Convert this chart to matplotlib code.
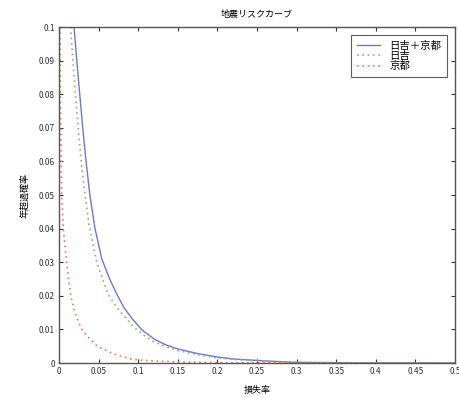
import matplotlib
matplotlib.use("Agg")
import matplotlib.pyplot as plt

plt.rcParams['font.family'] = ['Noto Sans CJK JP', 'DejaVu Sans']

title = "地震リスクカーブ"
xlabel = "損失率"
ylabel = "年超過確率"
series_labels = ["日吉＋京都", "日吉", "京都"]

# loss ratio / annual exceedance probability, combined portfolio
combined_x = [0.019, 0.0225, 0.0262, 0.030, 0.0342, 0.039, 0.0455, 0.054,
              0.064, 0.073, 0.082, 0.093, 0.105, 0.121, 0.135, 0.15, 0.175,
              0.2, 0.22, 0.24, 0.27, 0.3, 0.35, 0.4, 0.5]
combined_y = [0.100, 0.090, 0.080, 0.070, 0.060, 0.050, 0.040, 0.031,
              0.025, 0.0205, 0.0165, 0.0130, 0.0098, 0.0070, 0.0054, 0.0042,
              0.0028, 0.0018, 0.0012, 0.0009, 0.0005, 0.0002, 0.0001,
              0.00005, 0.0]

# Hiyoshi site
hiyoshi_x = [0.0145, 0.018, 0.0215, 0.025, 0.0286, 0.033, 0.038, 0.0476,
             0.055, 0.062, 0.073, 0.081, 0.094, 0.107, 0.12, 0.135, 0.15,
             0.175, 0.2, 0.225, 0.25, 0.3, 0.35, 0.4, 0.5]
hiyoshi_y = [0.100, 0.089, 0.078, 0.068, 0.0584, 0.050, 0.041, 0.030,
             0.025, 0.0205, 0.0165, 0.0143, 0.0108, 0.0083, 0.0063, 0.0049,
             0.0037, 0.0025, 0.0015, 0.0010, 0.0006, 0.0002, 0.0001,
             0.00005, 0.0]

# Kyoto site
kyoto_x = [0.0012, 0.002, 0.0034, 0.0055, 0.0097, 0.0125, 0.015, 0.019, 0.024,
           0.029, 0.037, 0.048, 0.058, 0.068, 0.079, 0.09, 0.1, 0.121, 0.15,
           0.2, 0.25, 0.3, 0.4, 0.5]
kyoto_y = [0.100, 0.075, 0.050, 0.040, 0.030, 0.024, 0.020, 0.016, 0.0125,
           0.0100, 0.0076, 0.0051, 0.0039, 0.0028, 0.0020, 0.0013, 0.0009,
           0.0006, 0.0003, 0.0001, 0.00005, 0.00002, 0.0, 0.0]

xticks = [0, 0.05, 0.1, 0.15, 0.2, 0.25, 0.3, 0.35, 0.4, 0.45, 0.5]
xtick_labels = ["0", "0.05", "0.1", "0.15", "0.2", "0.25", "0.3", "0.35", "0.4", "0.45", "0.5"]
yticks = [0, 0.01, 0.02, 0.03, 0.04, 0.05, 0.06, 0.07, 0.08, 0.09, 0.1]
ytick_labels = ["0", "0.01", "0.02", "0.03", "0.04", "0.05", "0.06", "0.07", "0.08", "0.09", "0.1"]

fig = plt.figure(figsize=(4.59, 3.99), dpi=100)
ax = fig.add_axes([0.1285, 0.0902, 0.8628, 0.8421])

ax.plot(combined_x, combined_y, color="#7474d6", lw=1.0, label=series_labels[0])
ax.plot(hiyoshi_x, hiyoshi_y, color="#78bf6e", lw=1.2, ls=(0, (1, 2.2)),
        label=series_labels[1])
ax.plot(kyoto_x, kyoto_y, color="#f07a4e", lw=1.2, ls=(0, (1, 2.2)),
        label=series_labels[2])

ax.set_xlim(0, 0.5)
ax.set_ylim(0, 0.1)
ax.set_xticks(xticks)
ax.set_xticklabels(xtick_labels)
ax.set_yticks(yticks)
ax.set_yticklabels(ytick_labels)
ax.tick_params(direction="in", length=3, width=0.8, labelsize=6,
               top=True, right=True, pad=3, colors="#333333")
for s in ax.spines.values():
    s.set_color("#555555")
    s.set_linewidth(1.0)

ax.set_title(title, fontsize=6.5, pad=7)
ax.set_xlabel(xlabel, fontsize=6.5, labelpad=7)
ax.set_ylabel(ylabel, fontsize=6.5, labelpad=7)

leg = ax.legend(loc="upper right", fontsize=7.5, frameon=True, fancybox=False,
                handlelength=2.2, borderpad=0.6, labelspacing=0.0,
                handletextpad=0.85, borderaxespad=0.75)
leg.get_frame().set_edgecolor("#333333")
leg.get_frame().set_linewidth(0.8)

fig.savefig("out.png", dpi=100)
